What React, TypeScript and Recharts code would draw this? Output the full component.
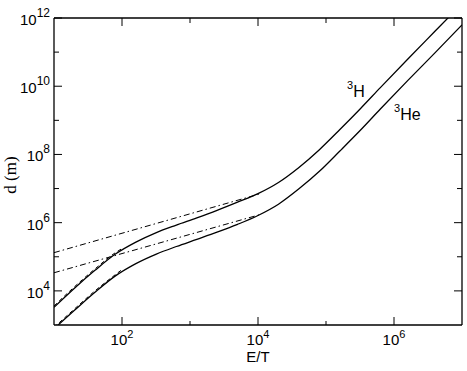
import React from 'react';
import { LineChart, Line, XAxis, YAxis, ReferenceDot } from 'recharts';

// E/T sample points (shared by both full curves)
const energy = [10, 20, 40, 80, 160, 320, 630, 1260, 2500, 5000, 1e4, 2e4, 4e4, 8e4, 1.6e5, 3.2e5, 6.3e5, 1.6e6, 4e6, 1e7];
// range d (m) for 3H (upper solid)
const rangeH3 = [3.3e3, 1.2e4, 4.0e4, 1.2e5, 2.69e5, 5.13e5, 8.5e5, 1.38e6, 2.29e6, 3.98e6, 7.1e6, 1.51e7, 4.17e7, 1.38e8, 5.37e8, 2.19e9, 9.1e9, 6.3e10, 4.07e11, 2.63e12];
// range d (m) for 3He (lower solid)
const rangeHe3 = [7.8e2, 2.7e3, 9.1e3, 2.75e4, 6.3e4, 1.2e5, 2.0e5, 3.24e5, 5.25e5, 8.9e5, 1.62e6, 3.47e6, 9.8e6, 3.2e7, 1.26e8, 5.1e8, 2.14e9, 1.48e10, 9.5e10, 6.3e11];

// low-energy power-law approximation (dash-dot)
const energyApprox = [10, 1.1e4];
const approxH3 = [1.32e5, 7.1e6];
const approxHe3 = [3.4e4, 1.75e6];

// dashed approximation at low energy
const energyDash = [10, 20, 40, 80, 100];
const dashH3 = [3.6e3, 1.32e4, 4.4e4, 1.32e5, 1.74e5];
const dashHe3 = [8.5e2, 2.95e3, 1.0e4, 3.0e4, 4.2e4];

const xTicks = [100, 1e3, 1e4, 1e5, 1e6];
const yTicks = [1e4, 1e5, 1e6, 1e7, 1e8, 1e9, 1e10, 1e11, 1e12];
const xLabelExps = [2, 4, 6];
const yLabelExps = [4, 6, 8, 10, 12];

const xTitle = 'E/T';
const yTitle = 'd (m)';
const labelH3 = { x: 2.04e5, y: 4.83e9, sup: '3', base: 'H' };
const labelHe3 = { x: 1.0e6, y: 1.02e9, sup: '3', base: 'He' };

const zip = (xs: number[], ys: number[]) => xs.map((x, i) => ({ x, y: ys[i] }));

const SANS = '"Liberation Sans", Arial, Helvetica, sans-serif';
const SERIF = '"Liberation Serif", "Times New Roman", serif';

const exp10 = (v: number) => Math.round(Math.log10(v));

const BottomTick = (p: any) => {
  const e = exp10(p.payload.value);
  const major = xLabelExps.includes(e);
  return (
    <g>
      <line x1={p.x} x2={p.x} y1={p.y} y2={p.y - (major ? 8 : 4)} stroke="#000" strokeWidth={1} />
      {major && (
        <text x={p.x} y={p.y + 20} textAnchor="middle" fontFamily={SANS} fontSize={15} fill="#000">
          10<tspan dy={-7} fontSize={11}>{e}</tspan>
        </text>
      )}
    </g>
  );
};

const TopTick = (p: any) => {
  const e = exp10(p.payload.value);
  const major = xLabelExps.includes(e);
  return <line x1={p.x} x2={p.x} y1={p.y} y2={p.y + (major ? 8 : 5)} stroke="#000" strokeWidth={1} />;
};

const LeftTick = (p: any) => {
  const e = exp10(p.payload.value);
  const major = yLabelExps.includes(e);
  return (
    <g>
      <line x1={p.x} x2={p.x + (major ? 8 : 5)} y1={p.y} y2={p.y} stroke="#000" strokeWidth={1} />
      {major && (
        <text x={p.x - 4} y={p.y + 7} textAnchor="end" fontFamily={SANS} fontSize={15} fill="#000">
          10<tspan dy={-8} fontSize={12}>{e}</tspan>
        </text>
      )}
    </g>
  );
};

const RightTick = (p: any) => {
  const e = exp10(p.payload.value);
  const major = yLabelExps.includes(e);
  return <line x1={p.x} x2={p.x - (major ? 8 : 5)} y1={p.y} y2={p.y} stroke="#000" strokeWidth={1} />;
};

const SupLabel = (lab: { sup: string; base: string }) => (p: any) => (
  <text x={p.cx} y={p.cy} fontFamily={SANS} fontSize={16} fill="#000">
    <tspan fontSize={11} dy={-8}>{lab.sup}</tspan>
    <tspan dy={8}>{lab.base}</tspan>
  </text>
);

export default function App() {
  return (
    <div style={{ position: 'absolute', left: 0, top: 0, background: '#fff' }}>
      <LineChart width={467} height={371} margin={{ top: 0, right: 0, bottom: 0, left: 0 }}>
        <XAxis
          dataKey="x"
          type="number"
          scale="log"
          domain={[10, 1e7]}
          allowDataOverflow
          ticks={xTicks}
          interval={0}
          height={46}
          tickSize={0}
          tickMargin={0}
          tickLine={false}
          tick={BottomTick}
          axisLine={{ stroke: '#000', strokeWidth: 1.3 }}
          label={(lp: any) => {
            const vb = lp.viewBox;
            return (
              <text x={vb.x + vb.width / 2} y={vb.y + 37} textAnchor="middle" fontFamily={SANS} fontSize={15} fill="#000">
                {xTitle}
              </text>
            );
          }}
        />
        <XAxis
          xAxisId="top"
          orientation="top"
          dataKey="x"
          type="number"
          scale="log"
          domain={[10, 1e7]}
          allowDataOverflow
          ticks={xTicks}
          interval={0}
          height={18}
          tickSize={0}
          tickMargin={0}
          tickLine={false}
          tick={TopTick}
          axisLine={{ stroke: '#000', strokeWidth: 1.3 }}
        />
        <YAxis
          dataKey="y"
          type="number"
          scale="log"
          domain={[1e3, 1e12]}
          allowDataOverflow
          ticks={yTicks}
          interval={0}
          width={54}
          tickSize={0}
          tickMargin={0}
          tickLine={false}
          tick={LeftTick}
          axisLine={{ stroke: '#000', strokeWidth: 1.3 }}
          label={(lp: any) => {
            const cx = 16;
            const cy = 175;
            return (
              <text x={cx} y={cy} textAnchor="middle" transform={`rotate(-90 ${cx} ${cy})`} fontFamily={SERIF} fontSize={17} fill="#000">
                {yTitle}
              </text>
            );
          }}
        />
        <YAxis
          yAxisId="right"
          orientation="right"
          type="number"
          scale="log"
          domain={[1e3, 1e12]}
          allowDataOverflow
          ticks={yTicks}
          interval={0}
          width={5}
          tickSize={0}
          tickMargin={0}
          tickLine={false}
          tick={RightTick}
          axisLine={{ stroke: '#000', strokeWidth: 1.3 }}
        />
        <Line data={zip(energyApprox, approxH3)} dataKey="y" stroke="#000" strokeWidth={1} strokeDasharray="6 3 1.5 3" dot={false} isAnimationActive={false} />
        <Line data={zip(energyApprox, approxHe3)} dataKey="y" stroke="#000" strokeWidth={1} strokeDasharray="6 3 1.5 3" dot={false} isAnimationActive={false} />
        <Line data={zip(energyDash, dashH3)} dataKey="y" type="monotone" stroke="#000" strokeWidth={1} strokeDasharray="4 3" dot={false} isAnimationActive={false} />
        <Line data={zip(energyDash, dashHe3)} dataKey="y" type="monotone" stroke="#000" strokeWidth={1} strokeDasharray="4 3" dot={false} isAnimationActive={false} />
        <Line data={zip(energy, rangeH3)} dataKey="y" type="monotone" stroke="#000" strokeWidth={1.3} dot={false} isAnimationActive={false} />
        <Line data={zip(energy, rangeHe3)} dataKey="y" type="monotone" stroke="#000" strokeWidth={1.3} dot={false} isAnimationActive={false} />
        <ReferenceDot x={labelH3.x} y={labelH3.y} r={0} shape={SupLabel(labelH3)} />
        <ReferenceDot x={labelHe3.x} y={labelHe3.y} r={0} shape={SupLabel(labelHe3)} />
      </LineChart>
    </div>
  );
}
